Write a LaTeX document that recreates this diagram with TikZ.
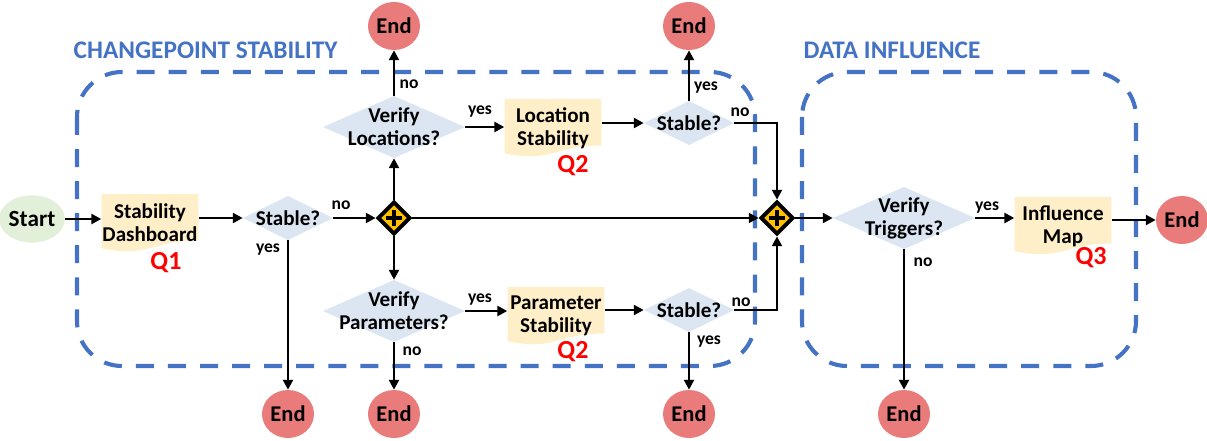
\documentclass[tikz,border=0pt]{standalone}
\usepackage{fontspec}
\setmainfont{Carlito}
\usetikzlibrary{positioning,calc,backgrounds,shapes.geometric,arrows.meta}

\definecolor{boxblue}{HTML}{4472C4}
\definecolor{docfill}{HTML}{FFEFC8}
\definecolor{askfill}{HTML}{DCE6F3}
\definecolor{startfill}{HTML}{E2EFD9}
\definecolor{endfill}{HTML}{E97B7B}
\definecolor{gatefill}{HTML}{FFC000}

\begin{document}
\begin{tikzpicture}[x=0.025cm, y=-0.025cm,
  every node/.style={align=center, inner sep=1pt, font=\bfseries\fontsize{15}{16.5}\selectfont},
  startnode/.style={ellipse, fill=startfill, minimum width=1.27cm, minimum height=1.18cm, inner sep=0pt, font=\bfseries\fontsize{16.5}{18}\selectfont},
  endnode/.style={ellipse, fill=endfill, minimum width=1.3cm, minimum height=1.2cm, inner sep=0pt, font=\bfseries\fontsize{16}{18}\selectfont},
  doc/.style={minimum width=2.42cm, minimum height=1.45cm, inner sep=0pt,
    path picture={\fill[docfill] let \p1=(path picture bounding box.north west), \p2=(path picture bounding box.south east), \n1={\y1-\y2} in
      (\x1,\y1) -- (\x2,\y1) -- (\x2,{\y1-0.802*\n1})
      .. controls ({0.5*\x1+0.5*\x2},{\y1-0.802*\n1}) and ({0.5*\x1+0.5*\x2},{\y1-1.107*\n1}) .. (\x1,{\y1-0.934*\n1}) -- cycle;}},
  ask/.style={minimum width=2.25cm, minimum height=1.1cm, inner sep=0pt,
    path picture={\fill[askfill] (path picture bounding box.north) -- (path picture bounding box.east)
      -- (path picture bounding box.south) -- (path picture bounding box.west) -- cycle;}},
  bigask/.style={ask, minimum width=3.55cm, minimum height=1.55cm},
  gate/.style={diamond, draw, line width=2.8pt, fill=gatefill, minimum size=0.82cm, inner sep=0pt,
    path picture={\draw[line width=2.6pt] ([xshift=-5.5pt]path picture bounding box.center) -- ([xshift=5.5pt]path picture bounding box.center)
      ([yshift=-5.5pt]path picture bounding box.center) -- ([yshift=5.5pt]path picture bounding box.center);}},
  flow/.style={line width=2pt, -{Triangle[length=7pt,width=7pt]}},
  yn/.style={font=\bfseries\fontsize{12.5}{14}\selectfont},
  qmark/.style={text=red, font=\bfseries\fontsize{18.5}{20}\selectfont},
  region/.style={draw=boxblue, line width=2.9pt, dash pattern=on 12.8pt off 10pt, rounded corners=32pt},
  title/.style={anchor=west, text=boxblue, font=\bfseries\fontsize{18}{20}\selectfont}]
  \useasboundingbox (0,0) rectangle (1207,440);

  % changepoint stability
  \node[title] (ttlcp) at (72,50) {CHANGEPOINT STABILITY};
  \node[startnode] (start) at (32,219) {Start};
  \node[doc] (dash) at (150,223) {Stability\\Dashboard};
  \node[qmark] (q1) at (166,263) {Q1};
  \node[ask] (st1) at (288,218) {Stable?};
  \node[gate] (g1) at (394,218) {};
  \node[bigask] (vloc) at (394,127) {Verify\\Locations?};
  \node[doc] (locst) at (553,128) {Location\\Stability};
  \node[qmark] (q2a) at (573,166) {Q2};
  \node[ask] (st2) at (689,123) {Stable?};
  \node[bigask] (vpar) at (394,311) {Verify\\Parameters?};
  \node[doc] (parst) at (556,316) {Parameter\\Stability};
  \node[qmark] (q2b) at (573,352) {Q2};
  \node[ask] (st3) at (689,310) {Stable?};
  \node[gate] (g2) at (777,218) {};

  \node[endnode] (e1) at (288,414) {End};
  \node[endnode] (e2) at (394,26) {End};
  \node[endnode] (e3) at (394,414) {End};
  \node[endnode] (e4) at (689,26) {End};
  \node[endnode] (e5) at (689,414) {End};

  % data influence
  \node[title] (ttldi) at (802,50) {DATA INFLUENCE};
  \node[bigask] (vtrig) at (904,218) {Verify\\Triggers?};
  \node[doc] (infl) at (1063,226) {Influence\\Map};
  \node[qmark] (q3) at (1091,258) {Q3};
  \node[endnode] (e6) at (904,414) {End};
  \node[endnode] (e7) at (1182,220) {End};

  \draw[flow] (start) -- (start -| dash.west);
  \draw[flow] (dash.east |- st1) -- (st1.west);
  \draw[flow] (st1.east) -- (g1.west);
  \draw[flow] (st1.south) -- (e1.north);
  \draw[flow] (g1.north) -- (vloc.south);
  \draw[flow] (vloc.north) -- (e2.south);
  \draw[flow] (vloc.east) -- (vloc.east -| locst.west);
  \draw[flow] (locst.east |- st2) -- (st2.west);
  \draw[flow] (st2.north) -- (e4.south);
  \draw[flow] (st2.east) -| (g2.north);
  \draw[flow] (g1.east) -- (g2.west);
  \draw[flow] (g1.south) -- (vpar.north);
  \draw[flow] (vpar.south) -- (e3.north);
  \draw[flow] (vpar.east) -- (vpar.east -| parst.west);
  \draw[flow] (parst.east |- st3) -- (st3.west);
  \draw[flow] (st3.south) -- (e5.north);
  \draw[flow] (st3.east) -| (g2.south);
  \draw[flow] (g2.east) -- (vtrig.west);
  \draw[flow] (vtrig.east) -- (vtrig.east -| infl.west);
  \draw[flow] (infl.east |- e7) -- (e7.west);
  \draw[flow] (vtrig.south) -- (e6.north);

  \node[yn] (l1) at (341,205) {no};
  \node[yn] (l2) at (268,250) {yes};
  \node[yn] (l3) at (409,84) {no};
  \node[yn] (l4) at (480,112) {yes};
  \node[yn] (l5) at (706,88) {yes};
  \node[yn] (l6) at (740,112) {no};
  \node[yn] (l7) at (480,300) {yes};
  \node[yn] (l8) at (412,351) {no};
  \node[yn] (l9) at (709,342) {yes};
  \node[yn] (l10) at (741,302) {no};
  \node[yn] (l11) at (987,208) {yes};
  \node[yn] (l12) at (923,262) {no};

  \begin{scope}[on background layer]
    \draw[region] (77,72) rectangle (755,366);
    \draw[region] (802,72) rectangle (1136,366);
  \end{scope}
\end{tikzpicture}
\end{document}
